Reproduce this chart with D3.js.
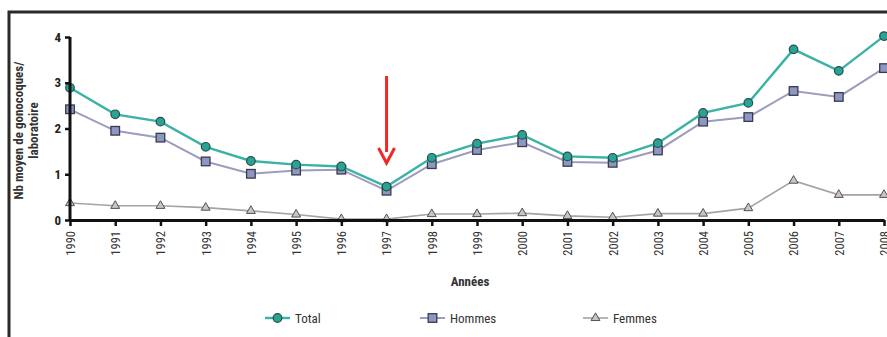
<!DOCTYPE html>
<html>
<head>
<meta charset="utf-8">
<script src="https://cdn.jsdelivr.net/npm/d3@7"></script>
<style>
  html, body { margin: 0; padding: 0; background: #fff; }
  svg { display: block; }
  text { font-family: "Liberation Sans Narrow", "Roboto Condensed", "DejaVu Sans Condensed", sans-serif; }
</style>
</head>
<body>
<svg id="chart" width="887" height="337"></svg>
<script>
// Nombre moyen de gonocoques par laboratoire, 1990-2008
const years = [1990, 1991, 1992, 1993, 1994, 1995, 1996, 1997, 1998, 1999,
               2000, 2001, 2002, 2003, 2004, 2005, 2006, 2007, 2008];
const total  = [2.89, 2.31, 2.15, 1.60, 1.29, 1.21, 1.17, 0.73, 1.36, 1.67,
                1.86, 1.39, 1.36, 1.68, 2.34, 2.56, 3.73, 3.26, 4.02];
const hommes = [2.42, 1.95, 1.80, 1.28, 1.01, 1.08, 1.10, 0.64, 1.22, 1.53,
                1.70, 1.27, 1.25, 1.52, 2.15, 2.25, 2.82, 2.69, 3.32];
const femmes = [0.37, 0.31, 0.31, 0.27, 0.20, 0.12, 0.02, 0.02, 0.13, 0.13,
                0.15, 0.09, 0.06, 0.14, 0.14, 0.26, 0.86, 0.55, 0.55];
const yTicks = [0, 1, 2, 3, 4];
const seriesNames = ["Total", "Hommes", "Femmes"];
const markedYear = 1997;

const svg = d3.select("#chart");

// outer frame
svg.append("path")
  .attr("d", "M9,337 V12 H887")
  .attr("fill", "none")
  .attr("stroke", "#2a2a2a")
  .attr("stroke-width", 3);

const x = d3.scalePoint().domain(years).range([70, 884]);
const y = d3.scaleLinear().domain([0, 4]).range([220, 37]);

const styles = {
  Total:  { line: "#3bb3a4", fill: "#2aa396", stroke: "#25504a", width: 2.4, shape: "circle" },
  Hommes: { line: "#9d9cbc", fill: "#8d97c3", stroke: "#3a3a4a", width: 2,   shape: "square" },
  Femmes: { line: "#a8a2a0", fill: "#c9c5c2", stroke: "#555050", width: 1.6, shape: "triangle" }
};
const data = { Total: total, Hommes: hommes, Femmes: femmes };

function marker(g, shape, st, cx, cy) {
  if (shape === "circle") {
    g.append("circle").attr("cx", cx).attr("cy", cy).attr("r", 4.3)
      .attr("fill", st.fill).attr("stroke", st.stroke).attr("stroke-width", 1.2);
  } else if (shape === "square") {
    g.append("rect").attr("x", cx - 4.3).attr("y", cy - 4.3).attr("width", 8.6).attr("height", 8.6)
      .attr("fill", st.fill).attr("stroke", st.stroke).attr("stroke-width", 1.3);
  } else {
    g.append("path").attr("d", d3.symbol(d3.symbolTriangle, 34)())
      .attr("transform", `translate(${cx},${cy})`)
      .attr("fill", st.fill).attr("stroke", st.stroke).attr("stroke-width", 1);
  }
}

// draw series, Femmes first so Total lies on top
["Femmes", "Hommes", "Total"].forEach(name => {
  const st = styles[name];
  const vals = data[name];
  const pts = years.map((yr, i) => [x(yr), y(vals[i])]);
  svg.append("path")
    .attr("d", d3.line()(pts))
    .attr("fill", "none")
    .attr("stroke", st.line)
    .attr("stroke-width", st.width);
  const g = svg.append("g");
  pts.forEach(p => marker(g, st.shape, st, p[0], p[1]));
});

// axes
const yAxis = svg.append("g").attr("transform", "translate(70,0)")
  .call(d3.axisLeft(y).tickValues(yTicks).tickSize(5).tickPadding(4).tickFormat(d3.format("d")));
yAxis.select(".domain").attr("stroke", "#111").attr("stroke-width", 3)
  .attr("d", `M0,${y(4)}H0V${y(0)}`);
yAxis.selectAll(".tick line").attr("stroke", "#111").attr("stroke-width", 2.5);
yAxis.selectAll(".tick text").attr("font-size", 13).attr("font-weight", "bold").attr("fill", "#222");

const xAxis = svg.append("g").attr("transform", `translate(0,${y(0)})`)
  .call(d3.axisBottom(x).tickSize(6).tickSizeOuter(0));
xAxis.select(".domain").attr("stroke", "#111").attr("stroke-width", 3);
xAxis.selectAll(".tick line").attr("stroke", "#111").attr("stroke-width", 2.5);
xAxis.selectAll(".tick text")
  .attr("font-size", 12.5).attr("fill", "#333")
  .attr("transform", "rotate(-90)")
  .attr("text-anchor", "end")
  .attr("x", -11).attr("y", 0).attr("dy", "0.35em");

// axis titles
svg.append("text")
  .attr("x", 470).attr("y", 286)
  .attr("text-anchor", "middle")
  .attr("font-size", 13).attr("font-weight", "bold").attr("fill", "#333")
  .text("Années");

const yTitle = svg.append("text")
  .attr("transform", `translate(0,${(y(0) + y(4)) / 2 + 2}) rotate(-90)`)
  .attr("text-anchor", "middle")
  .attr("font-size", 13).attr("font-weight", "bold").attr("fill", "#333");
yTitle.append("tspan").attr("x", 0).attr("y", 23).text("Nb moyen de gonocoques/");
yTitle.append("tspan").attr("x", 0).attr("y", 38).text("laboratoire");

// red arrow pointing at the marked year
const ax = x(markedYear);
svg.append("line")
  .attr("x1", ax).attr("x2", ax).attr("y1", 76).attr("y2", 152)
  .attr("stroke", "#ee2a24").attr("stroke-width", 3);
svg.append("path")
  .attr("d", `M${ax - 8},${148} L${ax},${163} L${ax + 8},${148}`)
  .attr("fill", "none").attr("stroke", "#ee2a24").attr("stroke-width", 3)
  .attr("stroke-linejoin", "miter");

// legend
const legendX = [265, 420, 583];
seriesNames.forEach((name, i) => {
  const st = styles[name];
  const lx = legendX[i], ly = 318;
  const g = svg.append("g");
  g.append("line").attr("x1", lx).attr("x2", lx + 25).attr("y1", ly).attr("y2", ly)
    .attr("stroke", st.line).attr("stroke-width", st.width);
  marker(g, st.shape, st, lx + 12.5, ly);
  g.append("text").attr("x", lx + 30).attr("y", ly).attr("dy", "0.35em")
    .attr("font-size", 13).attr("fill", "#333").text(name);
});
</script>
</body>
</html>
